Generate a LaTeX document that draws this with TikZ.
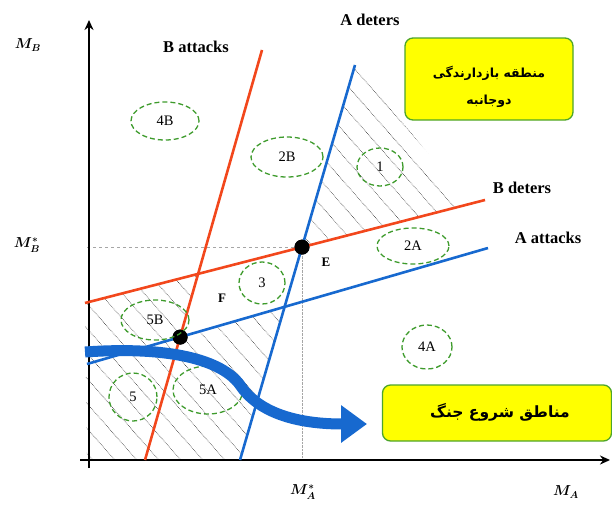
\documentclass[tikz,border=0pt]{standalone}
\usepackage{fontspec}
\setmainfont{Liberation Serif}
\newfontfamily\farsifont[Script=Arabic]{DejaVu Sans}
\TeXXeTstate=1
\usepackage{tikz}
\usetikzlibrary{arrows.meta,shapes.geometric,calc}
\definecolor{lineorange}{HTML}{F2471C}
\definecolor{lineblue}{HTML}{1769CF}
\definecolor{regiongreen}{HTML}{3E9B2C}
\definecolor{boxgreen}{HTML}{4DA52A}
\definecolor{boxyellow}{HTML}{FFFF00}
\tikzset{
    every node/.style={font=\small},
    region/.style={ellipse,draw=regiongreen,dash pattern=on 5pt off 3pt,line width=1.3pt,inner sep=0pt,font=\fontsize{14.5}{17}\selectfont},
    curvelabel/.style={font=\fontsize{16.5}{19}\selectfont\bfseries},
    axislabel/.style={font=\fontsize{14}{16}\selectfont\boldmath},
    pointlabel/.style={font=\fontsize{13}{15}\selectfont\bfseries},
    farsitext/.style={font=\farsifont\bfseries\fontsize{12.5}{15}\selectfont},
    hatchline/.style={densely dotted,gray!35!black,line width=0.6pt},
    guide/.style={dashed,gray!70,thin},
    notebox/.style={rounded corners=8pt,draw=boxgreen,line width=1.3pt,fill=boxyellow,align=center,inner sep=0pt},
    redline/.style={draw=lineorange,line width=2.6pt},
    blueline/.style={draw=lineblue,line width=2.6pt},
    bigdot/.style={circle,fill=black,inner sep=0pt,minimum size=15pt}
}

\begin{document}
\begin{tikzpicture}[x=1pt,y=-1pt]
\useasboundingbox (0,0) rectangle (612,506);
% line end points
\coordinate (origin) at (87,460);
\coordinate (rsTop) at (262,50);  \coordinate (rsBot) at (145,460);
\coordinate (bsTop) at (355,65);  \coordinate (bsBot) at (240,460);
\coordinate (rhL) at (85,303);    \coordinate (rhR) at (485,200);
\coordinate (bhL) at (87,364);    \coordinate (bhR) at (488,248);
\coordinate (rrX) at (intersection of rsTop--rsBot and rhL--rhR);
\coordinate (bbX) at (intersection of bsTop--bsBot and bhL--bhR);
\coordinate (hatchR) at (470,204);
\node[bigdot] (dotE) at (intersection of bsTop--bsBot and rhL--rhR) {};
\node[bigdot] (dotF) at (intersection of rsTop--rsBot and bhL--bhR) {};

% hatched regions
\begin{scope}
\clip (dotE.center) -- (bsTop) -- (hatchR) -- cycle;
\foreach \c in {-300,-278,...,600}
    \draw[hatchline] (\c,0) -- ++(440,500);
\end{scope}
\begin{scope}
\clip (rhL) -- (rrX) -- (dotF.center) -- (bbX) -- (bsBot) -- (origin) -- cycle;
\foreach \c in {-400,-378,...,400}
    \draw[hatchline] (\c,0) -- ++(440,500);
\end{scope}

% guides to the axes
\draw[guide] (dotE.center -| origin) -- (dotE.center);
\draw[densely dotted,gray!70,thin] (dotE.center) -- (dotE.center |- origin);

% axes
\draw[line width=1.8pt,-{Stealth[length=10pt,width=9pt]}] (80,460) -- (610,460);
\draw[line width=1.8pt,-{Stealth[length=10pt,width=9pt]}] (89,468) -- (89,20);

% the four lines
\draw[redline] (rsTop) -- (rsBot);
\draw[redline] (rhL) -- (rhR);
\draw[blueline] (bsTop) -- (bsBot);
\draw[blueline] (bhL) -- (bhR);
\node[bigdot] at (dotE) {};
\node[bigdot] at (dotF) {};

% regions
\node[region,minimum width=68pt,minimum height=38pt] (r4B) at (165,121) {4B};
\node[region,minimum width=72pt,minimum height=40pt] (r2B) at (287,157) {2B};
\node[region,minimum width=46pt,minimum height=38pt] (r1) at (380,167) {1};
\node[region,minimum width=72pt,minimum height=36pt] (r2A) at (413,246) {2A};
\node[region,minimum width=46pt,minimum height=42pt] (r3) at (262,283) {3};
\node[region,minimum width=68pt,minimum height=40pt] (r5B) at (155,320) {5B};
\node[region,minimum width=48pt,minimum height=48pt] (r5) at (133,397) {5};
\node[region,minimum width=70pt,minimum height=48pt] (r5A) at (208,390) {5A};
\node[region,minimum width=50pt,minimum height=44pt] (r4A) at (427,347) {4A};
\node[pointlabel] (ptE) at (326,262) {E};
\node[pointlabel] (ptF) at (222,298) {F};

% curve names
\node[curvelabel] (aDeters) at (370,20) {A deters};
\node[curvelabel] (bAttacks) at (196,47) {B attacks};
\node[curvelabel] (bDeters) at (522,188) {B deters};
\node[curvelabel] (aAttacks) at (548,238) {A attacks};

% axis names
\node[axislabel] (yName) at (28,45) {$M_B$};
\node[axislabel] (yStar) at (27,245) {$M_B^{*}$};
\node[axislabel] (xStar) at (303,492) {$M_A^{*}$};
\node[axislabel] (xName) at (566,492) {$M_A$};

% notes
\node[notebox,minimum width=168pt,minimum height=82pt] (mutual) at (489,79) {};
\node[farsitext] (mutualTop) at (489,73) {\beginR منطقه بازدارندگی\endR};
\node[farsitext] (mutualBot) at (489,101) {\beginR دوجانبه\endR};
\node[notebox,minimum width=229pt,minimum height=56pt] (warZone) at (497,413) {};
\node[farsitext,font=\farsifont\bfseries\fontsize{15.5}{18}\selectfont] (warText) at (500,412) {\beginR مناطق شروع جنگ\endR};

% big arrow
\coordinate (arrowStart) at (85,352);
\coordinate (arrowEnd) at (367,424);
\draw[lineblue,line width=11pt,-{Triangle[length=26pt,width=36pt]}]
    (arrowStart) .. controls (170,346) and (222,360) .. (240,385)
    .. controls (258,412) and (295,424) .. (arrowEnd);
\end{tikzpicture}
\end{document}
